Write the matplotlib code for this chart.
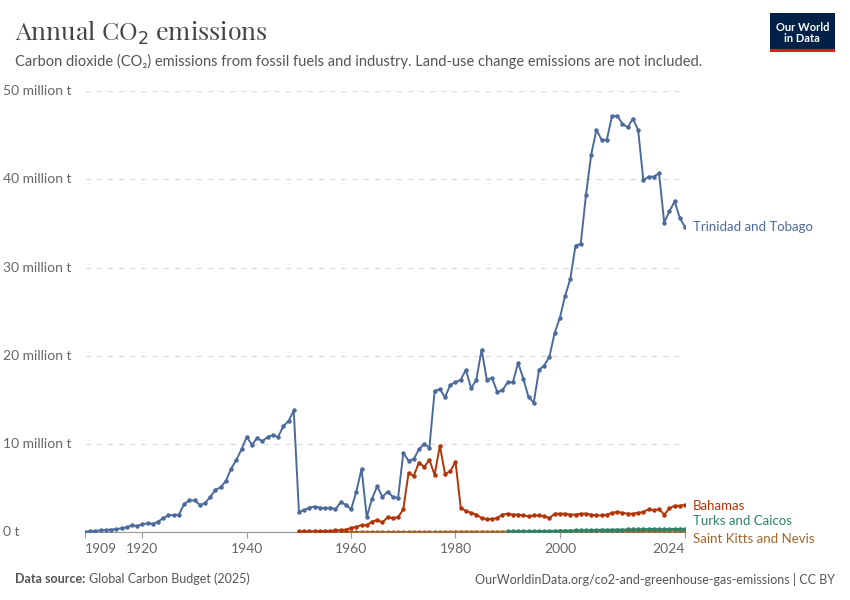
import numpy as np
import matplotlib.pyplot as plt
import matplotlib.transforms as mt

plt.rcParams['font.family'] = ['Lato', 'DejaVu Sans']

tt_years = list(range(1909, 2025))
trinidad = [0.05, 0.1, 0.15, 0.2, 0.25, 0.3, 0.35, 0.45, 0.55, 0.8, 0.7, 0.9, 1.0, 0.95, 1.2, 1.6, 1.9, 1.95, 2.0, 3.2,
            3.6, 3.6, 3.1, 3.3, 4.0, 4.8, 5.1, 5.8, 7.2, 8.2, 9.4, 10.8, 9.9, 10.7, 10.3, 10.8, 11.0, 10.8, 12.0, 12.6,
            13.8, 2.3, 2.5, 2.8, 2.9, 2.8, 2.7, 2.8, 2.6, 3.4, 3.1, 2.6, 4.6, 7.2, 1.7, 3.8, 5.2, 4.0, 4.6, 4.0,
            3.9, 9.0, 8.1, 8.3, 9.4, 10.0, 9.6, 16.0, 16.2, 15.3, 16.7, 17.0, 17.3, 18.4, 16.3, 17.3, 20.7, 17.3, 17.5, 15.9,
            16.1, 17.0, 17.0, 19.2, 17.4, 15.3, 14.7, 18.4, 18.9, 19.9, 22.6, 24.3, 26.8, 28.7, 32.5, 32.7, 38.2, 42.8, 45.6, 44.5,
            44.5, 47.2, 47.2, 46.3, 45.9, 46.9, 45.6, 39.9, 40.3, 40.3, 40.7, 35.1, 36.4, 37.5, 35.6, 34.6]

bs_years = list(range(1950, 2025))
bahamas = [0.1, 0.1, 0.1, 0.1, 0.12, 0.13, 0.15, 0.2, 0.25, 0.3, 0.5, 0.6, 0.8, 0.8, 1.2, 1.4, 1.1, 1.7, 1.6, 1.7,
           2.6, 6.7, 6.4, 7.9, 7.4, 8.2, 6.5, 9.8, 6.6, 6.9, 8.0, 2.8, 2.4, 2.2, 2.0, 1.6, 1.5, 1.5, 1.6, 2.0,
           2.1, 2.0, 2.0, 1.9, 1.8, 1.9, 1.9, 1.8, 1.6, 2.1, 2.1, 2.1, 2.0, 2.0, 2.1, 2.1, 2.0, 1.9, 1.9, 2.0,
           2.2, 2.3, 2.2, 2.1, 2.1, 2.2, 2.3, 2.6, 2.5, 2.6, 2.0, 2.7, 3.0, 3.0, 3.1]

tc_years = list(range(1990, 2025))
turks = [0.1, 0.1, 0.1, 0.1, 0.12, 0.12, 0.13, 0.14, 0.15, 0.16, 0.17, 0.18, 0.19, 0.2, 0.21, 0.22, 0.24, 0.26, 0.28, 0.28,
         0.29, 0.3, 0.3, 0.31, 0.32, 0.33, 0.34, 0.35, 0.36, 0.36, 0.34, 0.36, 0.37, 0.38, 0.38]

kn_years = list(range(1950, 2025))
kitts = [0.01] * 10 + [0.02] * 10 + [0.03] * 10 + [0.05] * 10 + [0.07] * 10 + [0.1] * 10 + [0.14] * 10 + [0.18] * 5

series = [
    ("Trinidad and Tobago", tt_years, trinidad, "#4C6A9C"),
    ("Bahamas", bs_years, bahamas, "#B13507"),
    ("Turks and Caicos", tc_years, turks, "#2C8465"),
    ("Saint Kitts and Nevis", kn_years, kitts, "#A2662B"),
]

fig = plt.figure(figsize=(8.5, 6), dpi=100)
ax = fig.add_axes([0.1, 0.113, 0.706, 0.735])

for name, xs, ys, col in series[::-1]:
    ax.plot(xs, ys, color=col, lw=1.4, marker='o', ms=2.2, zorder=3)

label_y = {"Trinidad and Tobago": 34.6, "Bahamas": 3.0, "Turks and Caicos": 1.3, "Saint Kitts and Nevis": -0.8}
for name, xs, ys, col in series:
    ax.text(2025.5, label_y[name], name, color=col, fontsize=9.5, va='center', ha='left')

ax.set_xlim(1909, 2024)
ax.set_ylim(0, 50)
ax.set_yticks([0, 10, 20, 30, 40, 50])
ax.set_yticklabels(["0 t", "10 million t", "20 million t", "30 million t", "40 million t", "50 million t"])
ax.set_xticks([1909, 1920, 1940, 1960, 1980, 2000, 2024])
ax.yaxis.grid(True, linestyle=(0, (4, 4)), color='#dddddd', lw=1)
for s in ['top', 'right', 'left']:
    ax.spines[s].set_visible(False)
ax.spines['bottom'].set_color('#999999')
ax.tick_params(axis='y', length=0, labelsize=10, labelcolor='#666666', pad=0)
for lbl in ax.get_yticklabels():
    lbl.set_horizontalalignment('left')
    lbl.set_verticalalignment('center')
    lbl.set_transform(lbl.get_transform() + mt.ScaledTranslation(-0.82, 0.0, fig.dpi_scale_trans))
ax.tick_params(axis='x', labelsize=10, labelcolor='#666666', color='#999999', length=4)
xl = ax.get_xticklabels()
xl[0].set_horizontalalignment('left')
xl[-1].set_horizontalalignment('right')

fig.text(0.018, 0.945, "Annual CO$_2$ emissions", fontsize=18, color='#444444', fontweight='bold',
         family=['Playfair Display', 'DejaVu Serif'], va='center')
fig.text(0.018, 0.898, "Carbon dioxide (CO₂) emissions from fossil fuels and industry. Land-use change emissions are not included.",
         fontsize=10.5, color='#555555', va='center')
fig.text(0.018, 0.035, "Data source:", fontsize=9, color='#555555', fontweight='bold', va='center')
fig.text(0.105, 0.035, "Global Carbon Budget (2025)", fontsize=9, color='#555555', va='center')
fig.text(0.982, 0.035, "OurWorldinData.org/co2-and-greenhouse-gas-emissions | CC BY", fontsize=9,
         color='#555555', va='center', ha='right')

logo = fig.add_axes([0.906, 0.913, 0.076, 0.065])
logo.set_facecolor('#002147')
logo.set_xticks([]); logo.set_yticks([])
for s in logo.spines.values():
    s.set_visible(False)
logo.axhline(0.02, color='#CE261E', lw=3)
logo.text(0.5, 0.5, "Our World\nin Data", color='white', fontsize=8, fontweight='bold',
          ha='center', va='center', linespacing=1.0, transform=logo.transAxes)

fig.savefig("out.png", dpi=100)
